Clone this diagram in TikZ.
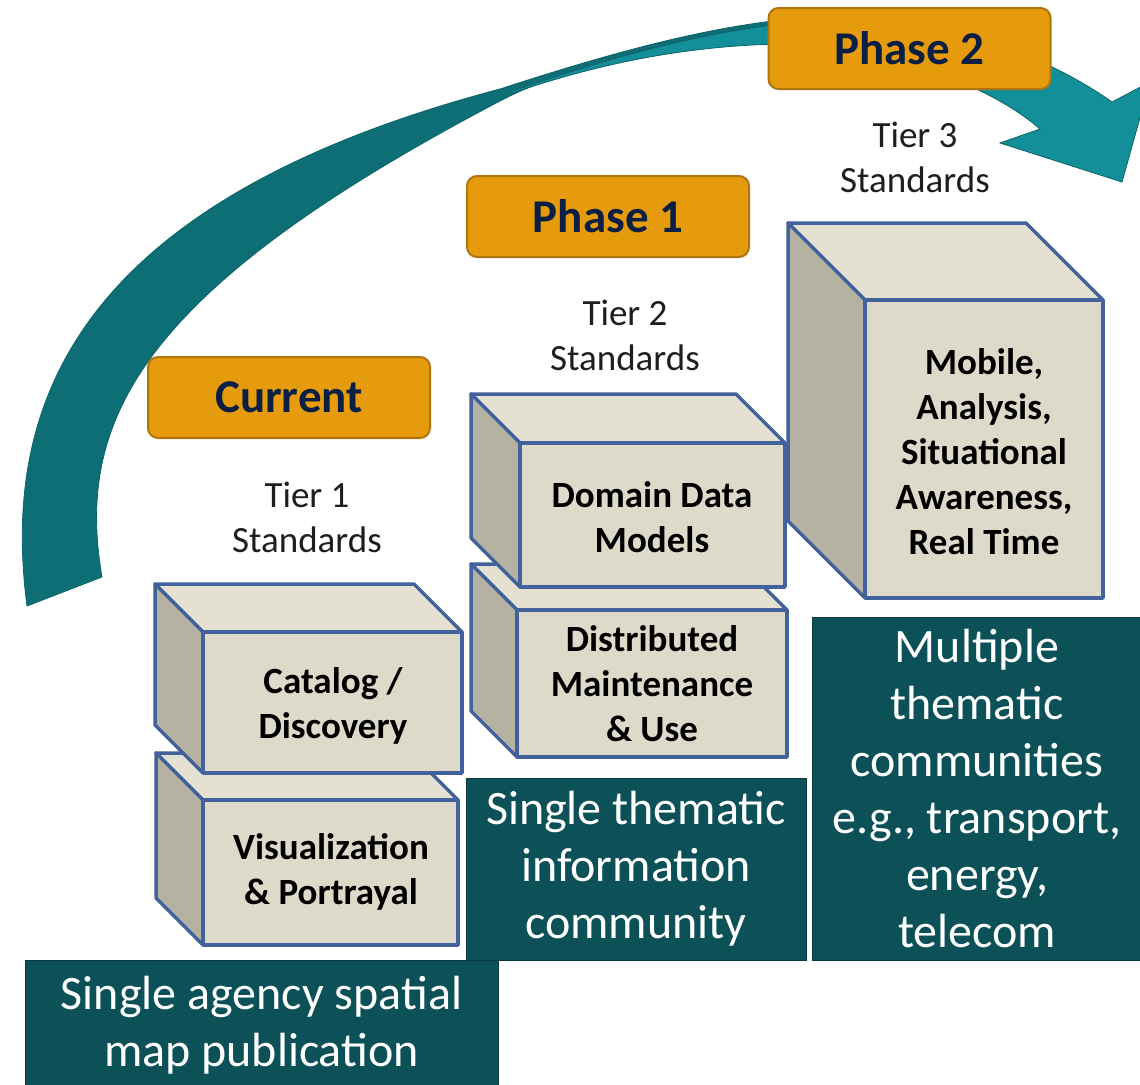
\documentclass[tikz,border=0pt]{standalone}
\usepackage{fontspec}
\setmainfont{Carlito}
\definecolor{darkteal}{HTML}{0E6E75}
\definecolor{lightteal}{HTML}{138F9A}
\definecolor{tealedge}{HTML}{0C646B}
\definecolor{boxteal}{HTML}{0B5157}
\definecolor{boxtealedge}{HTML}{083B40}
\definecolor{orangeF}{HTML}{E59B0B}
\definecolor{orangeB}{HTML}{B0740F}
\definecolor{navytxt}{HTML}{0B1F44}
\definecolor{cubefrontc}{HTML}{DDDAC9}
\definecolor{cubetopc}{HTML}{E4E1D3}
\definecolor{cubesidec}{HTML}{B6B2A3}
\definecolor{cubeedge}{HTML}{41629A}
\definecolor{tiergray}{HTML}{1E1E1E}
\tikzset{
  phasebox/.style={draw=orangeB, fill=orangeF, line width=2pt, rounded corners=10pt,
    minimum width=282pt, minimum height=81pt, inner sep=0pt,
    font=\fontsize{47}{56}\selectfont\bfseries, text=navytxt},
  tealbox/.style={draw=boxtealedge, fill=boxteal, line width=1pt, inner sep=0pt,
    text=white, align=center, font=\fontsize{48}{57}\selectfont},
  tiertxt/.style={align=center, inner sep=0pt, text=tiergray, font=\fontsize{37}{45}\selectfont},
  cubetxt/.style={align=center, inner sep=0pt, text=black, font=\fontsize{37}{45}\selectfont\bfseries},
  cubetop/.style={fill=cubetopc, draw=cubeedge, line width=3.5pt, line join=round},
  cubeside/.style={fill=cubesidec, draw=cubeedge, line width=3.5pt, line join=round},
  cubefront/.style={fill=cubefrontc, draw=cubeedge, line width=3.5pt, line join=round},
  arrowback/.style={fill=darkteal, draw=tealedge, line width=0.8pt},
  arrowfront/.style={fill=lightteal, draw=tealedge, line width=0.8pt, line join=miter},
}
\newcommand\mycube[5]{%
  \filldraw[cubetop] (#1,#2) -- ++(-#5,-#5) -- ++(#3,0) -- ++(#5,#5) -- cycle;
  \filldraw[cubeside] (#1,#2) -- ++(-#5,-#5) -- ++(0,#4) -- ++(#5,#5) -- cycle;
  \filldraw[cubefront] (#1,#2) rectangle ++(#3,#4);}
\begin{document}
\begin{tikzpicture}[x=1pt,y=-1pt]
\useasboundingbox (0,0) rectangle (1140,1084);
\fill[white] (0,0) rectangle (1140,1084);

% curved arrow: back (dark) part
\filldraw[arrowback]
  (27,606) .. controls (0,400) and (80,200) .. (500,89)
  .. controls (620,50) and (740,16) .. (850,16)
  -- (850,20)
  .. controls (740,22) and (580,59) .. (500,101)
  .. controls (140,290) and (75,420) .. (102,577)
  -- cycle;
% curved arrow: front (light) part with head
\filldraw[arrowfront]
  (510,92) .. controls (620,54) and (740,20) .. (850,20)
  .. controls (950,18) and (1050,58) .. (1112,102)
  -- (1150,82) -- (1122,182) -- (1000,143) -- (1040,129)
  .. controls (990,85) and (880,43) .. (780,44)
  .. controls (680,46) and (590,66) .. (510,94)
  -- cycle;

% phase boxes
\node[phasebox] (cur) at (289,397.5) {Current};
\node[phasebox] (ph1) at (608,216.5) {Phase 1};
\node[phasebox] (ph2) at (909.5,48.5) {Phase 2};

% tier labels
\node[tiertxt] (t1) at (307,517) {Tier 1\\Standards};
\node[tiertxt] (t2) at (625,335) {Tier 2\\Standards};
\node[tiertxt] (t3) at (915,157) {Tier 3\\Standards};

% cubes
\mycube{203}{800}{255}{145}{47}
\mycube{203}{632}{259}{141}{48}
\mycube{517}{610}{270}{147}{46}
\mycube{520}{443}{265}{144}{49}
\mycube{865}{300}{238}{298}{77}

\node[cubetxt] (viz) at (331,872) {Visualization\\\& Portrayal};
\node[cubetxt] (cat) at (333,706) {Catalog /\\Discovery};
\node[cubetxt] (dist) at (652,684) {Distributed\\Maintenance\\\& Use};
\node[cubetxt] (dom) at (652,517) {Domain Data\\Models};
\node[cubetxt] (mob) at (984,452) {Mobile,\\Analysis,\\Situational\\Awareness,\\Real Time};

% teal community boxes
\node[tealbox, minimum width=473pt, minimum height=130pt] (c1) at (261.5,1025) {Single agency spatial\\map publication};
\node[tealbox, minimum width=340pt, minimum height=182pt] (c2) at (636,869) {Single thematic\\information\\community};
\node[tealbox, minimum width=330pt, minimum height=343pt] (c3) at (977,788.5) {Multiple\\thematic\\communities\\e.g., transport,\\energy,\\telecom};
\end{tikzpicture}
\end{document}
